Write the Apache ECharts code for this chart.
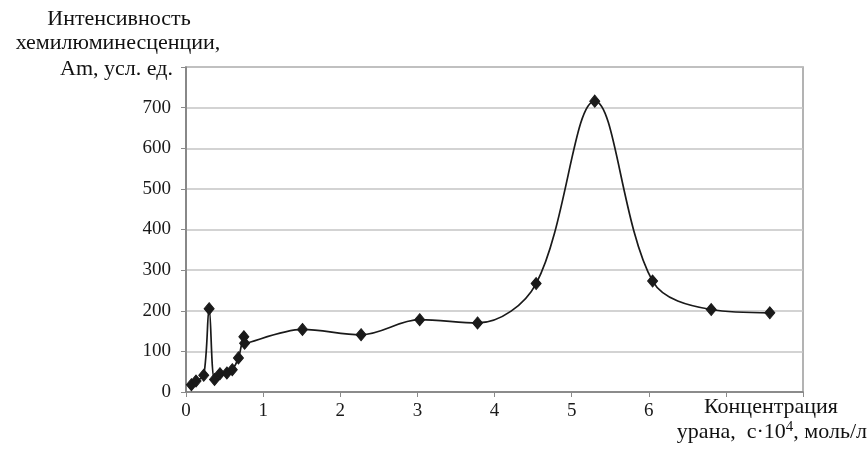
<!DOCTYPE html>
<html>
<head>
<meta charset="utf-8">
<script src="https://cdn.jsdelivr.net/npm/echarts@6/dist/echarts.min.js"></script>
<style>
html,body{margin:0;padding:0;background:#fff;}
#chart{width:868px;height:449px;}
</style>
</head>
<body>
<div id="chart"></div>
<script>
// Data
var concentration = [0.07, 0.13, 0.23, 0.30, 0.37, 0.44, 0.53, 0.60, 0.68, 0.75, 0.76, 1.51, 2.27, 3.03, 3.78, 4.54, 5.30, 6.05, 6.81, 7.57];
var intensity     = [18,   27,   41,   205,  31,   45,   47,   55,   84,   136,  120,  154,  141,  178,  170,  267,  716,  273,  203,  195];
var yTitleLines = ['Интенсивность', 'хемилюминесценции,', 'Am, усл. ед.'];
var xTitleLine1 = 'Концентрация';
var xTitleLine2 = ['урана,  c·10', '4', ', моль/л'];
var xLastLabel = 6;
var yMax = 800;

var points = concentration.map(function (c, i) { return [c, intensity[i]]; });
var serif = 'Liberation Serif, Times New Roman, serif';

var chart = echarts.init(document.getElementById('chart'));
chart.setOption({
  animation: false,
  backgroundColor: '#ffffff',
  grid: {
    left: 186, right: 65, top: 67, bottom: 57,
    show: true, borderColor: '#9a9a9a', borderWidth: 1.5, backgroundColor: 'transparent'
  },
  xAxis: {
    type: 'value', min: 0, max: 8, interval: 1,
    axisLine: { show: true, lineStyle: { color: '#7a7a7a', width: 1.5 } },
    axisTick: { show: true, inside: false, length: 5, lineStyle: { color: '#8a8a8a' } },
    splitLine: { show: false },
    axisLabel: {
      margin: 10, color: '#1a1a1a', fontFamily: serif, fontSize: 19,
      formatter: function (v) { return v <= xLastLabel ? String(v) : ''; }
    }
  },
  yAxis: {
    type: 'value', min: 0, max: yMax, interval: 100,
    axisLine: { show: true, lineStyle: { color: '#7a7a7a', width: 1.5 } },
    axisTick: { show: true, inside: false, length: 5, lineStyle: { color: '#8a8a8a' } },
    splitLine: { show: true, lineStyle: { color: '#c4c4c4', width: 1.5 } },
    axisLabel: {
      margin: 15, color: '#1a1a1a', fontFamily: serif, fontSize: 19,
      formatter: function (v) { return v < yMax ? String(v) : ''; }
    }
  },
  series: [{
    type: 'line',
    data: points,
    smooth: 0.35,
    symbol: 'diamond',
    symbolSize: [10, 12],
    showAllSymbol: true,
    lineStyle: { color: '#1a1a1a', width: 1.7 },
    itemStyle: { color: '#1a1a1a', borderColor: '#1a1a1a' }
  }],
  graphic: [
    { type: 'text', x: 119, y: 30, style: { text: yTitleLines[0], font: '22px ' + serif, fill: '#111', textAlign: 'center', textVerticalAlign: 'bottom' } },
    { type: 'text', x: 118, y: 54, style: { text: yTitleLines[1], font: '22px ' + serif, fill: '#111', textAlign: 'center', textVerticalAlign: 'bottom' } },
    { type: 'text', x: 173, y: 80, style: { text: yTitleLines[2], font: '22px ' + serif, fill: '#111', textAlign: 'right', textVerticalAlign: 'bottom' } },
    { type: 'text', x: 771, y: 418, style: { text: xTitleLine1, font: '22px ' + serif, fill: '#111', textAlign: 'center', textVerticalAlign: 'bottom' } },
    { type: 'text', x: 867, y: 443, style: {
        text: '{a|' + xTitleLine2[0] + '}{s|' + xTitleLine2[1] + '}{a|' + xTitleLine2[2] + '}',
        textAlign: 'right', textVerticalAlign: 'bottom', fill: '#111',
        rich: {
          a: { fontFamily: serif, fontSize: 22, color: '#111', verticalAlign: 'bottom' },
          s: { fontFamily: serif, fontSize: 15, color: '#111', verticalAlign: 'top', padding: [0, 0, 8, 0] }
        }
      } }
  ]
});
</script>
</body>
</html>
